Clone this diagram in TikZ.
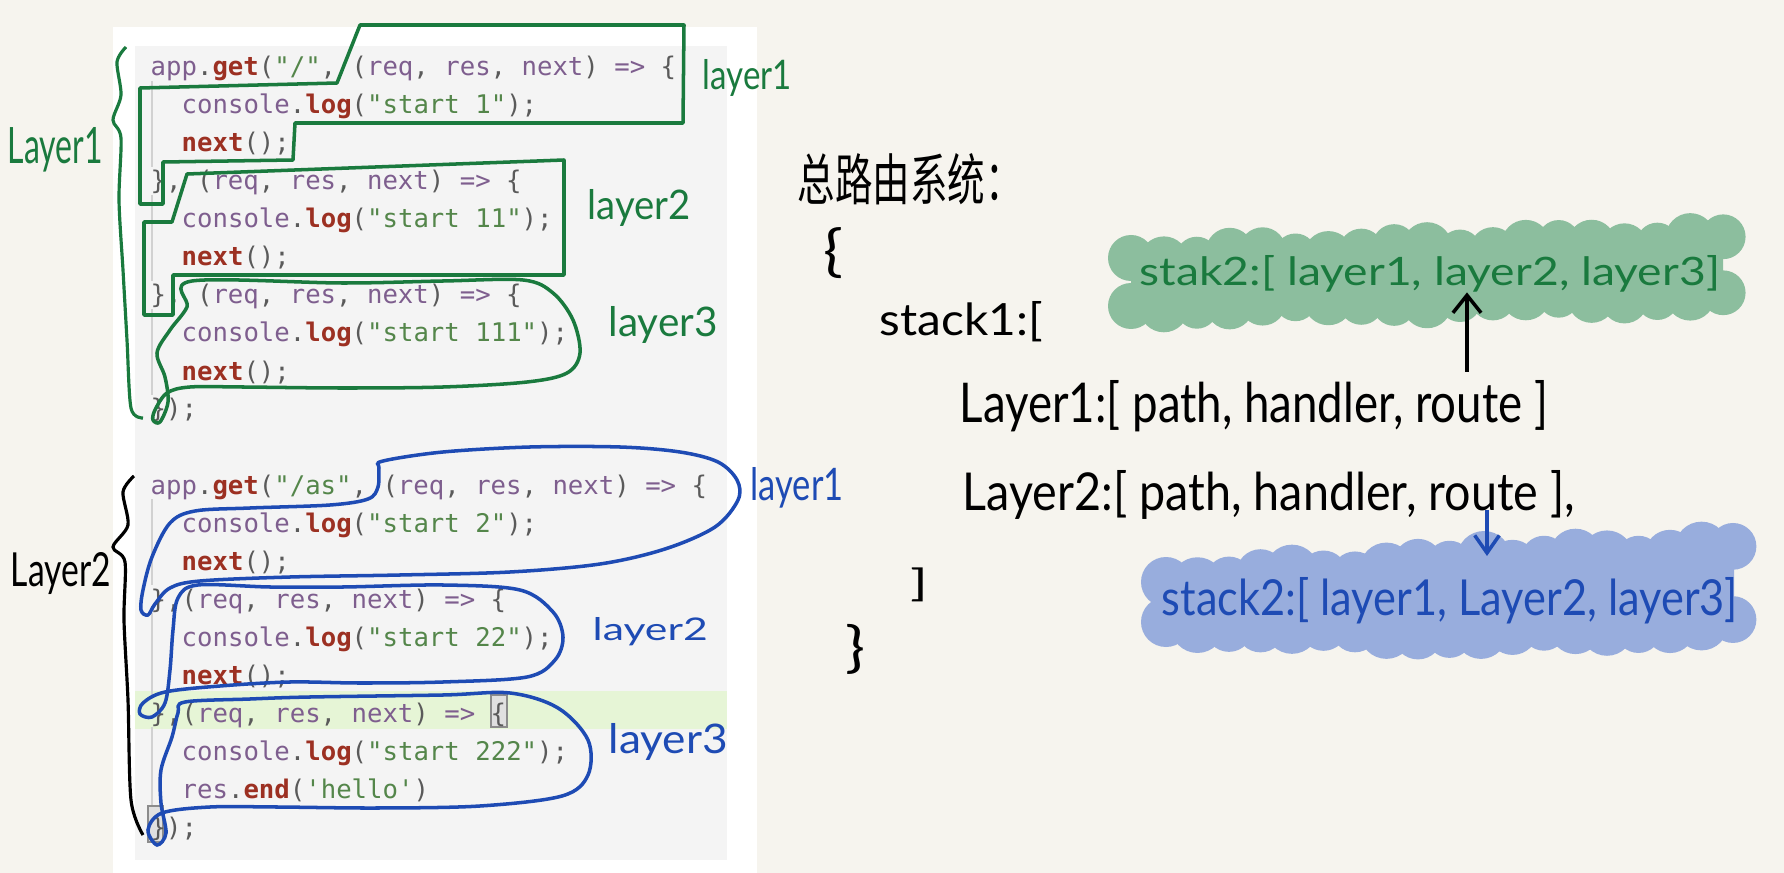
\documentclass[tikz,border=0pt]{standalone}
\usepackage{fontspec}
\setmonofont{DejaVu Sans Mono}
\newfontfamily\handfont{Lato}
\newfontfamily\cjkfont{Noto Sans CJK SC}
\usetikzlibrary{arrows.meta,positioning,calc}
\definecolor{paper}{HTML}{F6F4EE}
\definecolor{codebg}{HTML}{F4F4F4}
\definecolor{hlgreen}{HTML}{E6F5D6}
\definecolor{codeid}{HTML}{7E5E8E}
\definecolor{codefn}{HTML}{9C3022}
\definecolor{codestr}{HTML}{54864A}
\definecolor{codepunct}{HTML}{5A5A5A}
\definecolor{grn}{HTML}{1A7A3E}
\definecolor{grnfill}{HTML}{8CBE9E}
\definecolor{blu}{HTML}{1E4BB4}
\definecolor{blufill}{HTML}{98ADDD}
\newcommand{\cid}[1]{\textcolor{codeid}{#1}}
\newcommand{\cfn}[1]{\textcolor{codefn}{\bfseries #1}}
\newcommand{\cstr}[1]{\textcolor{codestr}{#1}}
\newcommand{\args}{(\cid{req}, \cid{res}, \cid{next}) \cid{=>} \{}

\begin{document}
\begin{tikzpicture}[x=0.01cm, y=-0.01cm,
  codeline/.style={anchor=base west, inner sep=0pt, font=\ttfamily\fontsize{7.3}{8}\selectfont, text=codepunct},
  hand/.style={anchor=base west, inner sep=0pt, font=\handfont},
  guide/.style={draw=black!18, line width=0.4pt},
  matchbox/.style={draw=black!45, fill=black!12, line width=0.4pt},
  gline/.style={draw=grn, line width=1pt, line join=round},
  bline/.style={draw=blu, line width=1pt},
  harrow/.style={-{Straight Barb[length=5pt,width=8pt]}, line width=1pt, black},
  barrow/.style={-{Straight Barb[length=5pt,width=7pt]}, line width=1pt, blu}
]
  \useasboundingbox (0,0) rectangle (1784,873);
  \fill[paper] (0,0) rectangle (1784,873);

  % code screenshot
  \fill[white] (113,27) rectangle (757,873);
  \fill[codebg] (135,46) rectangle (727,860);
  \fill[hlgreen] (135,691) rectangle (727,729);
  \foreach \a/\b in {0/3,3/6,6/9,11/14,14/17,17/20}
    \draw[guide] (152,{81+38*\a}) -- (152,{53+38*\b});
  \draw[matchbox] (491,695) rectangle (507,727);
  \draw[matchbox] (148,806) rectangle (163,842);

  \node[codeline] (c0)  at (150,76)  {\cid{app}.\cfn{get}(\cstr{"/"}, \args};
  \node[codeline] (c1)  at (181,114) {\cid{console}.\cfn{log}(\cstr{"start 1"});};
  \node[codeline] (c2)  at (181,152) {\cfn{next}();};
  \node[codeline] (c3)  at (150,190) {\}, \args};
  \node[codeline] (c4)  at (181,228) {\cid{console}.\cfn{log}(\cstr{"start 11"});};
  \node[codeline] (c5)  at (181,266) {\cfn{next}();};
  \node[codeline] (c6)  at (150,304) {\}, \args};
  \node[codeline] (c7)  at (181,342) {\cid{console}.\cfn{log}(\cstr{"start 111"});};
  \node[codeline] (c8)  at (181,380) {\cfn{next}();};
  \node[codeline] (c9)  at (150,418) {\});};
  \node[codeline] (c11) at (150,494) {\cid{app}.\cfn{get}(\cstr{"/as"}, \args};
  \node[codeline] (c12) at (181,532) {\cid{console}.\cfn{log}(\cstr{"start 2"});};
  \node[codeline] (c13) at (181,570) {\cfn{next}();};
  \node[codeline] (c14) at (150,608) {\},\args};
  \node[codeline] (c15) at (181,646) {\cid{console}.\cfn{log}(\cstr{"start 22"});};
  \node[codeline] (c16) at (181,684) {\cfn{next}();};
  \node[codeline] (c17) at (150,722) {\},\args};
  \node[codeline] (c18) at (181,760) {\cid{console}.\cfn{log}(\cstr{"start 222"});};
  \node[codeline] (c19) at (181,798) {\cid{res}.\cfn{end}(\cstr{'hello'})};
  \node[codeline] (c20) at (150,836) {\});};

  % green marks, first route
  \draw[grn, line width=0.9pt] plot[smooth] coordinates {(126,47) (117,62) (121,95) (113,120) (121,138) (119,200) (123,270) (127,340) (131,408) (143,418)};
  \draw[gline] (360,25) -- (684,25) -- (683,123) -- (295,123) -- (293,160) -- (163,162) -- (163,204) -- (140,204) -- (140,88) -- (337,83) -- cycle;
  \draw[gline] (187,174) -- (564,160) -- (564,275) -- (173,275) -- (173,315) -- (144,315) -- (144,222) -- (172,222) -- cycle;
  \draw[gline] plot[smooth cycle, tension=0.55] coordinates {(192,281) (343,283) (443,281) (523,280) (553,293) (573,320) (580,353) (567,373) (527,382) (443,387) (343,388) (243,387) (190,387) (167,393) (155,410) (153,420) (160,422) (168,402) (165,377) (157,353) (170,330) (187,307)};
  \node[hand, text=grn] (glay)  at (7,163)   {\resizebox{0.95cm}{0.36cm}{Layer1}};
  \node[hand, text=grn] (gone)  at (702,90)  {\resizebox{0.89cm}{0.30cm}{layer1}};
  \node[hand, text=grn] (gtwo)  at (587,220) {\resizebox{1.03cm}{0.30cm}{layer2}};
  \node[hand, text=grn] (gthr)  at (608,337) {\resizebox{1.09cm}{0.30cm}{layer3}};

  % blue marks, second route
  \draw[black, line width=0.9pt] plot[smooth] coordinates {(134,476) (123,492) (128,525) (113,547) (125,562) (124,620) (128,700) (131,800) (143,835)};
  \draw[bline] plot[smooth cycle, tension=0.55] coordinates {(383,461) (443,452) (530,447) (620,447) (680,452) (718,462) (737,480) (738,500) (715,527) (665,549) (600,564) (510,572) (400,575) (290,577) (200,581) (170,588) (155,604) (148,615) (141,610) (143,590) (152,557) (170,523) (195,511) (250,508) (330,505) (368,499) (378,487) (379,468)};
  \draw[bline] plot[smooth cycle, tension=0.55] coordinates {(198,585) (270,587) (343,587) (443,585) (520,590) (553,612) (563,637) (555,660) (527,677) (443,682) (360,683) (290,682) (220,686) (165,692) (143,703) (140,714) (152,717) (165,703) (170,670) (173,630) (178,598)};
  \draw[bline] plot[smooth cycle, tension=0.55] coordinates {(185,702) (250,699) (310,697) (443,695) (510,693) (558,708) (588,740) (588,775) (562,796) (480,806) (377,808) (277,807) (210,807) (162,813) (148,830) (157,845) (166,833) (161,803) (161,770) (172,737) (178,713)};
  \node[hand] (klay) at (10,587) {\resizebox{1.00cm}{0.34cm}{Layer2}};
  \node[hand, text=blu] (bone) at (750,500) {\resizebox{0.93cm}{0.33cm}{layer1}};
  \node[hand, text=blu] (btwo) at (592,640) {\resizebox{1.15cm}{0.23cm}{layer2}};
  \node[hand, text=blu] (bthr) at (608,753) {\resizebox{1.19cm}{0.30cm}{layer3}};

  % route tree
  \node[hand, font=\cjkfont] (title) at (797,201) {\resizebox{2.25cm}{0.47cm}{总路由系统：}};
  \node[inner sep=0pt, font=\handfont] (obrace) at (833,253) {\resizebox*{0.20cm}{0.51cm}{\{}};
  \node[hand] (stk1) at (879,336) {\resizebox{1.63cm}{0.34cm}{stack1:[}};
  \node[hand] (lay1) at (959,422) {\resizebox{5.88cm}{0.42cm}{Layer1:[ path, handler, route ]}};
  \node[hand] (lay2) at (962,510) {\resizebox{6.12cm}{0.40cm}{Layer2:[ path, handler, route ],}};
  \node[inner sep=0pt, font=\handfont] (cbrack) at (919,585) {\resizebox*{0.18cm}{0.34cm}{]}};
  \node[inner sep=0pt, font=\handfont] (cbrace) at (855,649) {\resizebox*{0.20cm}{0.50cm}{\}}};

  % green stack blob
  \fill[grnfill] (1131,258) -- (1723,240) -- (1723,298) -- (1131,308) -- cycle;
  \foreach \i [evaluate=\i as \bx using 1131+32.9*\i, evaluate=\i as \ty using 258-1.0*\i+4*sin(\i*77),
               evaluate=\i as \by using 306-0.6*\i+3*sin(\i*53), evaluate=\i as \br using 23+2*sin(\i*131)] in {0,...,18}
    \fill[grnfill] (\bx,\ty) circle[radius=\br] (\bx,\by) circle[radius=\br];
  \node[hand, text=grn] (stakg) at (1139,285) {\resizebox{5.80cm}{0.30cm}{stak2:[ layer1, layer2, layer3]}};

  % blue stack blob
  \fill[blufill] (1166,582) -- (1734,550) -- (1734,622) -- (1166,622) -- cycle;
  \foreach \i [evaluate=\i as \bx using 1166+31.5*\i, evaluate=\i as \ty using 582-1.8*\i+4*sin(\i*77),
               evaluate=\i as \by using 622+10*sin(\i*10)+3*sin(\i*53), evaluate=\i as \br using 25+2*sin(\i*113)] in {0,...,18}
    \fill[blufill] (\bx,\ty) circle[radius=\br] (\bx,\by) circle[radius=\br];
  \fill[blufill] (1484,558) circle[radius=27];
  \node[hand, text=blu] (stakb) at (1161,615) {\resizebox{5.76cm}{0.38cm}{stack2:[ layer1, Layer2, layer3]}};

  % arrows
  \coordinate (upfoot) at (1467,372);
  \coordinate (dntip) at (1487,556);
  \draw[harrow] (upfoot) -- (stakg.south -| upfoot);
  \draw[barrow] (lay2.base -| dntip) -- (dntip);
\end{tikzpicture}
\end{document}
